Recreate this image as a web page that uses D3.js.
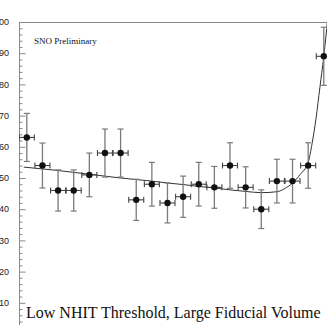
<!DOCTYPE html>
<html>
<head>
<meta charset="utf-8">
<script src="https://cdn.jsdelivr.net/npm/d3@7"></script>
<style>
  body { margin: 0; background: #fff; }
  svg { display: block; }
</style>
</head>
<body>
<div id="chart"></div>
<script>
// bin index along x, counts per bin and their errors
const bins = [0, 1, 2, 3, 4, 5, 6, 7, 8, 9, 10, 11, 12, 13, 14, 15, 16, 17, 18, 19];
const counts = [63, 54, 46, 46, 51, 58, 58, 43, 48, 42, 44, 48, 47, 54, 47, 40, 49, 49, 54, 89];
const errors = [7.7, 7.2, 6.6, 6.6, 7.0, 7.7, 7.7, 6.6, 7.0, 6.4, 6.6, 7.0, 6.7, 7.3, 6.6, 6.2, 7.0, 7.0, 7.3, 9.3];

// fit curve at these bin positions
const fitX = [-0.2, 1, 2, 3, 4, 5, 6, 7, 8, 9, 10, 11, 12, 13, 14, 15, 16, 16.5, 17, 17.5, 18, 18.25, 18.5, 18.75, 19, 19.25];
const fitY = [53.5, 52.9, 52.4, 51.8, 51.2, 50.6, 50.0, 49.5, 49.0, 48.4, 47.9, 47.3, 46.8, 46.2, 45.7, 45.3, 45.6, 46.6, 48.4, 51.2, 55.0, 61, 69, 79, 89, 101];

const yTicks = [10, 20, 30, 40, 50, 60, 70, 80, 90, 100];

const W = 327, H = 325;

const svg = d3.select("#chart").append("svg")
    .attr("width", W)
    .attr("height", H);

const x = d3.scaleLinear().domain([-0.5, 19.5]).range([19, 331.6]);
const y = d3.scaleLinear().domain([0, 100]).range([334, 22]);

svg.append("defs").append("clipPath").attr("id", "plot")
    .append("rect")
    .attr("x", 19).attr("y", 22)
    .attr("width", W - 19).attr("height", H - 22);

// frame: left axis and top line
svg.append("line")
    .attr("x1", 19).attr("x2", W)
    .attr("y1", 22.5).attr("y2", 22.5)
    .attr("stroke", "#888").attr("stroke-width", 1);

const axis = d3.axisRight(y)
    .tickValues(d3.range(0, 101, 2))
    .tickSize(3)
    .tickFormat("");
const ag = svg.append("g").attr("transform", "translate(19.5,0)").call(axis);
ag.select(".domain").remove();
ag.selectAll(".tick line")
    .attr("stroke", "#888")
    .attr("x2", d => d % 10 === 0 ? 6 : 3);
svg.append("line")
    .attr("x1", 19.5).attr("x2", 19.5)
    .attr("y1", 22).attr("y2", H)
    .attr("stroke", "#888").attr("stroke-width", 1);

svg.append("g").selectAll("text")
    .data(yTicks)
    .enter()
    .append("text")
    .attr("x", 9)
    .attr("y", d => y(d))
    .attr("dy", "0.35em")
    .attr("text-anchor", "end")
    .attr("font-family", "Liberation Sans, Arial, sans-serif")
    .attr("font-size", 9)
    .attr("fill", "#222")
    .text(d => d);

const plot = svg.append("g").attr("clip-path", "url(#plot)");

// fit curve
const line = d3.line()
    .x((d, i) => x(fitX[i]))
    .y(d => y(d))
    .curve(d3.curveMonotoneX);
plot.append("path")
    .datum(fitY)
    .attr("d", line)
    .attr("fill", "none")
    .attr("stroke", "#333")
    .attr("stroke-width", 1);

// error bars and markers
const pts = plot.selectAll("g.pt")
    .data(bins)
    .enter()
    .append("g")
    .attr("class", "pt");

pts.append("line")
    .attr("x1", d => x(d)).attr("x2", d => x(d))
    .attr("y1", d => y(counts[d] - errors[d]))
    .attr("y2", d => y(counts[d] + errors[d]))
    .attr("stroke", "#7a7a7a").attr("stroke-width", 1.3);

[1, -1].forEach(s => {
    pts.append("line")
        .attr("x1", d => x(d) - 3).attr("x2", d => x(d) + 3)
        .attr("y1", d => y(counts[d] + s * errors[d]))
        .attr("y2", d => y(counts[d] + s * errors[d]))
        .attr("stroke", "#7a7a7a").attr("stroke-width", 1.2);
});

pts.append("line")
    .attr("x1", d => x(d - 0.48)).attr("x2", d => x(d + 0.48))
    .attr("y1", d => y(counts[d])).attr("y2", d => y(counts[d]))
    .attr("stroke", "#444").attr("stroke-width", 1.1);

[-0.48, 0.48].forEach(s => {
    pts.append("line")
        .attr("x1", d => x(d + s)).attr("x2", d => x(d + s))
        .attr("y1", d => y(counts[d]) - 3).attr("y2", d => y(counts[d]) + 3)
        .attr("stroke", "#444").attr("stroke-width", 1.1);
});

pts.append("circle")
    .attr("cx", d => x(d))
    .attr("cy", d => y(counts[d]))
    .attr("r", 3.2)
    .attr("fill", "#111");

// labels
svg.append("text")
    .attr("x", 34).attr("y", 43.5)
    .attr("font-family", "Liberation Serif, Times New Roman, serif")
    .attr("font-size", 9)
    .attr("fill", "#111")
    .text("SNO Preliminary");

svg.append("text")
    .attr("x", 26).attr("y", 318)
    .attr("font-family", "Liberation Serif, Times New Roman, serif")
    .attr("font-size", 16)
    .attr("fill", "#111")
    .text("Low NHIT Threshold, Large Fiducial Volume");
</script>
</body>
</html>
